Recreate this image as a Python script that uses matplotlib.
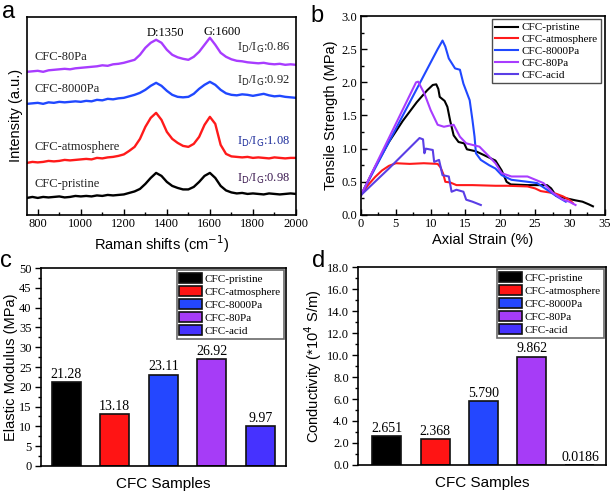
import matplotlib
matplotlib.use('Agg')
import matplotlib.pyplot as plt
from matplotlib.ticker import MultipleLocator, FormatStrFormatter

SERIF = 'Liberation Serif'
SANS = 'Liberation Sans'

samples = ['CFC-pristine', 'CFC-atmosphere', 'CFC-8000Pa', 'CFC-80Pa', 'CFC-acid']
line_colors = ['#000000', '#ff1a1a', '#2048ff', '#a83cff', '#5a3ee6']
bar_colors = ['#000000', '#ff1414', '#2447ff', '#a63cf7', '#4632ff']

# --- panel a: Raman spectra (stacked, arbitrary units) ---
raman_shift = [750, 775, 800, 825, 850, 875, 900, 925, 950, 975, 1000,
               1025, 1050, 1075, 1100, 1125, 1150, 1175, 1200,
               1225, 1250, 1275, 1300, 1325, 1350, 1375, 1400, 1425, 1450, 1475,
               1500, 1525, 1550, 1575, 1600, 1625, 1650, 1675, 1700, 1725, 1750,
               1775, 1800, 1825, 1850, 1875, 1900, 1925, 1950, 1975, 2000]
raman_pristine = [17, 18, 17, 18, 17.5, 18, 18.5, 17.5, 18, 19, 18.5,
                  19, 18.5, 19.5, 19, 20, 19.5, 20, 20.5,
                  22, 23.5, 26, 31, 37, 42, 39, 33, 29, 27, 25.5,
                  25.5, 28, 33, 39, 42, 37, 29, 24.5, 22.5, 21.5, 22,
                  21, 21.5, 21, 20.5, 21.5, 21, 20.5, 21, 21.5, 21]
raman_atmosphere = [52, 53, 52.5, 53, 54, 53.5, 54, 55, 54.5, 55, 55.5,
                    56, 55.5, 57, 56.5, 57.5, 58, 59, 60.5,
                    64, 68, 76, 88, 97, 102, 95, 83, 76, 72, 69,
                    68, 71, 78, 90, 98, 91, 70, 61, 58.5, 58, 57.5,
                    58, 57, 57.5, 57, 56.5, 57.5, 57, 56.5, 57, 57]
raman_8000pa = [111, 111.5, 112, 111, 112.5, 112, 113, 112.5, 113, 113.5, 113,
                114, 113.5, 115, 114.5, 116, 115.5, 116.5, 117,
                118.5, 120, 122, 125, 129, 132, 129, 124, 120, 118, 117.5,
                118, 121, 126, 130, 133, 130, 125, 121.5, 120, 119.5, 120.5,
                120, 119, 120, 121, 119.5, 118.5, 119, 118, 117.5, 117]
raman_80pa = [143, 143.5, 144, 143, 144.5, 145, 145.5, 146, 145.5, 146.5, 147,
              147.5, 148, 148.5, 149.5, 149, 150.5, 151, 152,
              153.5, 155, 160, 167, 172, 175, 172, 165, 160, 157.5, 156,
              155, 158, 163, 170, 177, 170, 162, 158, 155.5, 154, 153.5,
              152.5, 152, 151.5, 152, 151, 150.5, 151, 150, 150.5, 150]
ratio_labels = ['0.98', '1.08', '0.92', '0.86']
ratio_colors = ['#3a1850', '#1a2a9a', '#222222', '#222222']

# --- panel b: stress-strain curves ---
strain_pristine = [0, 2, 4, 6, 8, 9.5, 10.3, 10.8, 11.1, 11.3, 12, 12.4, 12.8, 13.3, 14, 14.8, 15.2,
                   16.5, 17.9, 19.3, 20.2, 20.9, 21.5, 23.9, 26.7, 27.3, 28, 29.5, 30.8, 31.8, 32.7, 33.3]
stress_pristine = [0.3, 0.72, 1.1, 1.42, 1.7, 1.88, 1.96, 1.97, 1.9, 1.78, 1.72, 1.63, 1.42, 1.2, 1.1, 1.08, 0.99,
                   0.96, 0.89, 0.82, 0.67, 0.5, 0.46, 0.45, 0.45, 0.4, 0.29, 0.25, 0.22, 0.2, 0.16, 0.13]
strain_atmosphere = [0, 1, 2, 3, 4, 5, 7, 9, 11, 11.4, 11.8, 12.1, 12.8, 13.7, 16, 19.3, 21, 23.9,
                     25, 25.8, 27, 28, 29, 29.9, 30.4]
stress_atmosphere = [0.3, 0.45, 0.57, 0.67, 0.74, 0.78, 0.77, 0.78, 0.77, 0.72, 0.62, 0.5, 0.49, 0.45,
                     0.45, 0.44, 0.44, 0.43, 0.4, 0.36, 0.34, 0.32, 0.28, 0.23, 0.18]
strain_8000pa = [0, 4, 8.5, 11, 11.7, 12.1, 12.6, 13.5, 14.2, 14.7, 15.6, 16.0, 16.3, 16.5, 17.2, 18.4,
                 19.3, 20.2, 21.6, 23.9, 25.3, 26.7, 28.1, 29.4]
stress_8000pa = [0.3, 1.1, 2.0, 2.5, 2.63, 2.54, 2.36, 2.21, 2.19, 1.98, 1.73, 1.43, 1.18, 0.93, 0.83, 0.75,
                 0.7, 0.6, 0.53, 0.5, 0.48, 0.38, 0.28, 0.2]
strain_80pa = [0, 4, 7.9, 8.2, 9.1, 10, 11, 11.9, 13.3, 14.2, 15.1, 17, 18.4, 19.3, 20.2, 21.6, 23.9,
               26.2, 27.6, 29, 29.9, 30.8]
stress_80pa = [0.3, 1.16, 2.0, 2.01, 1.83, 1.58, 1.36, 1.33, 1.36, 1.18, 1.08, 1.03, 0.88, 0.78, 0.63,
               0.58, 0.58, 0.48, 0.33, 0.23, 0.2, 0.15]
strain_acid = [0, 4, 8.4, 8.9, 9.1, 9.3, 10.3, 10.5, 11.2, 11.7, 12.6, 13.0, 13.7, 14.7, 15.1, 16.0, 17.2]
stress_acid = [0.3, 0.7, 1.16, 1.14, 0.93, 1.0, 0.98, 0.8, 0.83, 0.6, 0.58, 0.35, 0.38, 0.35, 0.23, 0.2, 0.15]

# --- panels c, d: bar values ---
elastic_modulus = [21.28, 13.18, 23.11, 26.92, 9.97]
modulus_labels = ['21.28', '13.18', '23.11', '26.92', '9.97']
conductivity = [2.651, 2.368, 5.790, 9.862, 0.0186]
conductivity_labels = ['2.651', '2.368', '5.790', '9.862', '0.0186']

TICK_FS = 9
LABEL_FS = 10.5


def style_ticks(ax, direction):
    ax.tick_params(which='both', direction=direction, labelsize=TICK_FS, width=1.0, pad=2.5)
    ax.tick_params(which='major', length=4)
    ax.tick_params(which='minor', length=2)
    for lab in ax.get_xticklabels() + ax.get_yticklabels():
        lab.set_fontfamily(SERIF)
    for sp in ax.spines.values():
        sp.set_linewidth(1.2)


def bar_legend(ax):
    leg = ax.legend(loc='upper right', prop={'family': SERIF, 'size': 8}, frameon=True,
                    fancybox=False, edgecolor='#444444', borderpad=0.25, labelspacing=0.2,
                    handlelength=2.0, handleheight=1.0, handletextpad=0.3, borderaxespad=0.2)
    leg.get_frame().set_linewidth(1.2)


fig = plt.figure(figsize=(6.14, 4.93), dpi=100)

# panel a
ax_a = fig.add_axes([0.044, 0.564, 0.438, 0.402])
spectra = [raman_pristine, raman_atmosphere, raman_8000pa, raman_80pa]
for spec, col in zip(spectra, line_colors[:4]):
    ax_a.plot(raman_shift, spec, color=col, lw=1.7)
ax_a.set_xlim(750, 2000)
ax_a.set_ylim(0, 198)
ax_a.xaxis.set_major_locator(MultipleLocator(200))
ax_a.xaxis.set_minor_locator(MultipleLocator(100))
ax_a.set_yticks([])
style_ticks(ax_a, 'in')
ax_a.set_xlabel('Raman shifts (cm$^{-1}$)', fontsize=LABEL_FS, family=SANS, labelpad=2)
ax_a.set_ylabel('Intensity (a.u.)', fontsize=LABEL_FS, family=SANS, labelpad=3)
name_y = [25, 62, 120, 152]
for name, y in zip(samples[:4], name_y):
    ax_a.text(785, y, name, fontsize=9, family=SERIF, color='#222222', va='bottom')
ratio_y = [29, 66, 127, 160]
for lab, y, col in zip(ratio_labels, ratio_y, ratio_colors):
    ax_a.text(1725, y, r'I$_\mathrm{D}$/I$_\mathrm{G}$:' + lab, fontsize=9, family=SERIF,
              color=col, va='bottom')
ax_a.text(1395, 176, 'D:1350', fontsize=9, family=SERIF, ha='center', va='bottom')
ax_a.text(1655, 177, 'G:1600', fontsize=9, family=SERIF, ha='center', va='bottom')
fig.text(0.003, 0.997, 'a', fontsize=17, family=SANS, va='top')

# panel b
ax_b = fig.add_axes([0.588, 0.564, 0.397, 0.4035])
curves = [(strain_pristine, stress_pristine), (strain_atmosphere, stress_atmosphere),
          (strain_8000pa, stress_8000pa), (strain_80pa, stress_80pa), (strain_acid, stress_acid)]
for (sx, sy), col, name in zip(curves, line_colors, samples):
    ax_b.plot(sx, sy, color=col, lw=1.5, label=name)
ax_b.set_xlim(0, 35)
ax_b.set_ylim(0, 3.0)
ax_b.xaxis.set_major_locator(MultipleLocator(5))
ax_b.xaxis.set_minor_locator(MultipleLocator(2.5))
ax_b.yaxis.set_major_locator(MultipleLocator(0.5))
ax_b.yaxis.set_minor_locator(MultipleLocator(0.25))
ax_b.yaxis.set_major_formatter(FormatStrFormatter('%.1f'))
style_ticks(ax_b, 'in')
ax_b.set_xlabel('Axial Strain (%)', fontsize=LABEL_FS, family=SANS, labelpad=2)
ax_b.set_ylabel('Tensile Strength (MPa)', fontsize=LABEL_FS, family=SANS, labelpad=3)
leg_b = ax_b.legend(loc='upper right', prop={'family': SERIF, 'size': 8}, frameon=True,
                    fancybox=False, edgecolor='#222222', borderpad=0.3, labelspacing=0.18,
                    handlelength=2.0, handletextpad=0.4, borderaxespad=0.3)
leg_b.get_frame().set_linewidth(1.0)
fig.text(0.505, 0.99, 'b', fontsize=17, family=SANS, va='top')

# panel c
positions = [1, 2, 3, 4, 5]
ax_c = fig.add_axes([0.066, 0.055, 0.4, 0.401])
bars_c = ax_c.bar(positions, elastic_modulus, width=0.6, color=bar_colors,
                  edgecolor='#111111', linewidth=1.2, label=samples)
for b, lab in zip(bars_c, modulus_labels):
    ax_c.text(b.get_x() + b.get_width() / 2, b.get_height() + 0.3, lab, ha='center',
              va='bottom', fontsize=10, family=SERIF)
ax_c.set_xlim(0.47, 5.53)
ax_c.set_ylim(0, 50)
ax_c.set_xticks([])
ax_c.yaxis.set_major_locator(MultipleLocator(5))
ax_c.yaxis.set_minor_locator(MultipleLocator(2.5))
style_ticks(ax_c, 'out')
ax_c.set_xlabel('CFC Samples', fontsize=LABEL_FS + 0.5, family=SANS, labelpad=8)
ax_c.set_ylabel('Elastic Modulus (MPa)', fontsize=LABEL_FS, family=SANS, labelpad=1)
bar_legend(ax_c)
fig.text(0.0, 0.492, 'c', fontsize=17, family=SANS, va='top')

# panel d
ax_d = fig.add_axes([0.583, 0.057, 0.404, 0.401])
bars_d = ax_d.bar(positions, conductivity, width=0.6, color=bar_colors,
                  edgecolor='#111111', linewidth=1.2, label=samples)
for b, lab in zip(bars_d, conductivity_labels):
    ax_d.text(b.get_x() + b.get_width() / 2, b.get_height() + 0.1, lab, ha='center',
              va='bottom', fontsize=10, family=SERIF)
ax_d.set_xlim(0.4, 5.54)
ax_d.set_ylim(0, 18)
ax_d.set_xticks([])
ax_d.yaxis.set_major_locator(MultipleLocator(2))
ax_d.yaxis.set_minor_locator(MultipleLocator(1))
ax_d.yaxis.set_major_formatter(FormatStrFormatter('%.1f'))
style_ticks(ax_d, 'out')
ax_d.set_xlabel('CFC Samples', fontsize=LABEL_FS + 0.5, family=SANS, labelpad=8)
ax_d.set_ylabel('Conductivity (*10$^4$ S/m)', fontsize=LABEL_FS, family=SANS, labelpad=2)
bar_legend(ax_d)
fig.text(0.508, 0.492, 'd', fontsize=17, family=SANS, va='top')

fig.savefig('out.png', dpi=100)
